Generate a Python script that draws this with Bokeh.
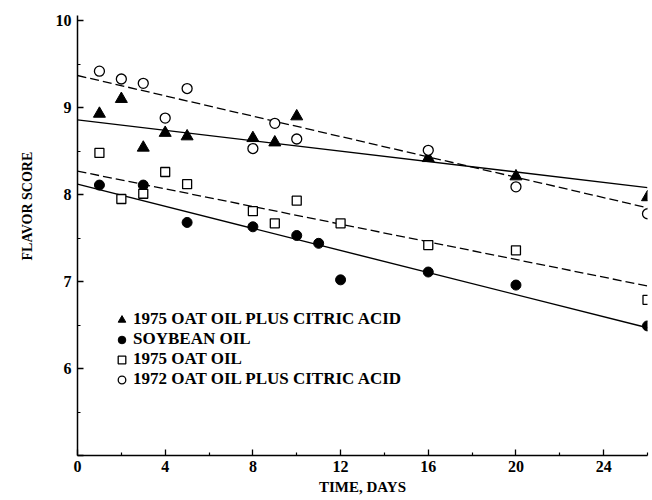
from bokeh.plotting import figure
from bokeh.models import Range1d, FixedTicker, Legend, LegendItem, Title
from bokeh.embed import file_html
from bokeh.resources import INLINE

# ---- data ----
days_tri = [1, 2, 3, 4, 5, 8, 9, 10, 16, 20, 26]
oat75_citric = [8.93, 9.10, 8.54, 8.71, 8.67, 8.65, 8.60, 8.90, 8.42, 8.21, 7.97]

days_soy = [1, 3, 5, 8, 10, 11, 12, 16, 20, 26]
soybean = [8.11, 8.11, 7.68, 7.63, 7.53, 7.44, 7.02, 7.11, 6.96, 6.49]

days_oat75 = [1, 2, 3, 4, 5, 8, 9, 10, 12, 16, 20, 26]
oat75 = [8.48, 7.95, 8.01, 8.26, 8.12, 7.81, 7.67, 7.93, 7.67, 7.42, 7.36, 6.79]

days_oat72 = [1, 2, 3, 4, 5, 8, 9, 10, 16, 20, 26]
oat72_citric = [9.42, 9.33, 9.28, 8.88, 9.22, 8.53, 8.82, 8.64, 8.51, 8.09, 7.78]

# regression lines (intercept, slope)
fit_oat75_citric = (8.86, -0.030)
fit_soybean = (8.12, -0.0635)
fit_oat75 = (8.27, -0.0508)
fit_oat72_citric = (9.37, -0.0585)
fit_days = [0, 26]

x_ticks = [0, 4, 8, 12, 16, 20, 24]
x_minor = [2, 6, 10, 14, 18, 22, 26]
y_ticks = [5, 6, 7, 8, 9, 10]
y_minor = [5.5, 6.5, 7.5, 8.5, 9.5]
y_labels = {5: "", 6: "6", 7: "7", 8: "8", 9: "9", 10: "10"}

legend_names = [
    "1975 OAT OIL PLUS CITRIC ACID",
    "SOYBEAN OIL",
    "1975 OAT OIL",
    "1972 OAT OIL PLUS CITRIC ACID",
]

FONT = "Liberation Serif"

p = figure(width=652, height=500, x_range=Range1d(0, 26), y_range=Range1d(5, 10.06),
           output_backend="svg", toolbar_location=None,
           min_border_left=76, min_border_right=5, min_border_top=15, min_border_bottom=45)
p.outline_line_color = None
p.xgrid.grid_line_color = None
p.ygrid.grid_line_color = None
p.background_fill_color = "white"
p.border_fill_color = "white"

def fit_line(fit):
    a, b = fit
    return [a + b * d for d in fit_days]

p.line(fit_days, fit_line(fit_oat75_citric), line_color="black", line_width=1.4)
p.line(fit_days, fit_line(fit_soybean), line_color="black", line_width=1.4)
p.line(fit_days, fit_line(fit_oat75), line_color="black", line_width=1.3, line_dash="9 4")
p.line(fit_days, fit_line(fit_oat72_citric), line_color="black", line_width=1.3, line_dash="9 4")

r_tri = p.scatter(days_tri, oat75_citric, marker="triangle", size=12,
                  fill_color="black", line_color="black")
r_soy = p.scatter(days_soy, soybean, marker="circle", size=10,
                  fill_color="black", line_color="black")
r_sq = p.scatter(days_oat75, oat75, marker="square", size=9,
                 fill_color="white", line_color="black", line_width=1.3)
r_oc = p.scatter(days_oat72, oat72_citric, marker="circle", size=10,
                 fill_color="white", line_color="black", line_width=1.3)

for ax in (p.xaxis[0], p.yaxis[0]):
    ax.axis_line_width = 1.5
    ax.axis_line_color = "black"
    ax.major_tick_in = 6
    ax.major_tick_out = 0
    ax.minor_tick_in = 3
    ax.minor_tick_out = 0
    ax.major_tick_line_width = 1.3
    ax.minor_tick_line_width = 1.2
    ax.major_label_text_font = FONT
    ax.major_label_text_font_style = "bold"
    ax.major_label_text_font_size = "16px"
    ax.major_label_text_color = "black"
    ax.axis_label_text_font = FONT
    ax.axis_label_text_font_style = "bold"
    ax.axis_label_text_color = "black"

p.xaxis.ticker = FixedTicker(ticks=x_ticks, minor_ticks=x_minor)
p.yaxis.ticker = FixedTicker(ticks=y_ticks, minor_ticks=y_minor)
p.yaxis.major_label_overrides = y_labels
p.xaxis.major_label_standoff = 5
p.yaxis.major_label_standoff = 6

p.xaxis.axis_label = "TIME, DAYS"
p.xaxis.axis_label_text_font_size = "15px"
p.xaxis.axis_label_standoff = 4

ytitle = Title(text="FLAVOR SCORE", align="left", offset=195, standoff=35,
               text_font=FONT, text_font_style="bold", text_font_size="14px",
               text_color="black")
p.add_layout(ytitle, "left")

legend = Legend(items=[LegendItem(label=legend_names[0], renderers=[r_tri]),
                       LegendItem(label=legend_names[1], renderers=[r_soy]),
                       LegendItem(label=legend_names[2], renderers=[r_sq]),
                       LegendItem(label=legend_names[3], renderers=[r_oc])],
                location=(35, 66), orientation="vertical",
                glyph_width=19, glyph_height=19, label_height=19, spacing=0,
                label_standoff=2, padding=0, margin=0,
                border_line_color=None, background_fill_alpha=0,
                label_text_font=FONT, label_text_font_style="bold",
                label_text_font_size="17px", label_text_color="black")
p.add_layout(legend)

open("out.html", "w").write(file_html(p, INLINE))
